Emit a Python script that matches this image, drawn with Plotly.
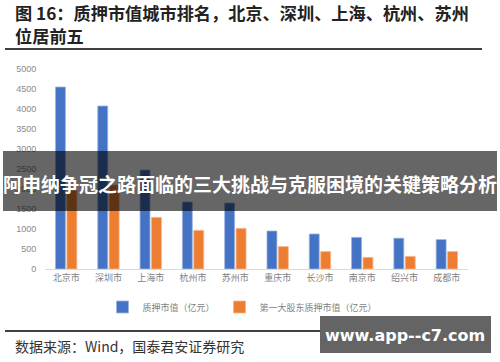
import plotly.graph_objects as go

cities = ["北京市", "深圳市", "上海市", "杭州市", "苏州市", "重庆市", "长沙市", "南京市", "绍兴市", "成都市"]
pledge_value = [4550, 4075, 2475, 1675, 1650, 950, 875, 790, 770, 735]
top_holder_pledge = [1960, 2100, 1290, 965, 1015, 560, 435, 290, 315, 435]
y_ticks = [0, 500, 1000, 1500, 2000, 2500, 3000, 3500, 4000, 4500, 5000]

series_names = ["质押市值（亿元）", "第一大股东质押市值（亿元）"]
title_line1 = "图 16：质押市值城市排名，北京、深圳、上海、杭州、苏州"
title_line2 = "位居前五"
source_text = "数据来源：Wind，国泰君安证券研究"
overlay_text = "阿申纳争冠之路面临的三大挑战与克服困境的关键策略分析"
watermark_text = "www.app--c7.com"

W, H = 500, 362
def py(v):
    return 1 - v / H

CJK = "Noto Sans CJK SC"

fig = go.Figure()
fig.add_trace(go.Bar(x=cities, y=pledge_value, name=series_names[0],
                     marker=dict(color="#4472C4", line=dict(color="#9db4e0", width=0.8))))
fig.add_trace(go.Bar(x=cities, y=top_holder_pledge, name=series_names[1],
                     marker=dict(color="#ED7D31", line=dict(color="#f6b58a", width=0.8))))

fig.update_layout(
    width=W, height=H,
    margin=dict(l=0, r=0, t=0, b=0, autoexpand=False),
    paper_bgcolor="white", plot_bgcolor="white",
    barmode="group", bargap=0.46, bargroupgap=0.13,
    font=dict(family=CJK, color="#7f7f7f", size=9),
    showlegend=True,
    legend=dict(orientation="h", x=0.485, xanchor="center", y=py(307), yanchor="middle",
                font=dict(size=9, color="#7f7f7f", family=CJK), itemwidth=30,
                bgcolor="rgba(0,0,0,0)"),
    xaxis=dict(domain=[45 / W, 468 / W], showline=True, linecolor="#d9d9d9", linewidth=1,
               showgrid=False, ticks="", tickfont=dict(size=9, color="#7f7f7f", family=CJK),
               automargin=False),
    yaxis=dict(domain=[py(269), py(69)], range=[0, 5000], tickvals=y_ticks,
               showgrid=False, zeroline=False, showline=False, automargin=False,
               tickfont=dict(size=9, color="#8a8a8a", family="Liberation Sans"),
               ticks="outside", ticklen=6, tickcolor="rgba(0,0,0,0)"),
)

shapes = []
shapes.append(dict(type="line", xref="paper", yref="paper", x0=5 / W, x1=482 / W,
                   y0=py(49), y1=py(49), line=dict(color="black", width=1.5), layer="above"))
shapes.append(dict(type="line", xref="paper", yref="paper", x0=5 / W, x1=482 / W,
                   y0=py(331), y1=py(331), line=dict(color="black", width=1.5), layer="above"))
shapes.append(dict(type="rect", xref="paper", yref="paper", x0=3 / W, x1=497 / W,
                   y0=py(211), y1=py(151), fillcolor="rgba(0,0,0,0.6)", line=dict(width=0),
                   layer="above"))
shapes.append(dict(type="rect", xref="paper", yref="paper", x0=320 / W, x1=491 / W,
                   y0=py(353), y1=py(316), fillcolor="rgb(100,100,100)", line=dict(width=0),
                   layer="above"))
fig.update_layout(shapes=shapes)

annotations = [
    dict(text="<b>" + title_line1 + "</b>", xref="paper", yref="paper", x=13 / W, y=py(13),
         xanchor="left", yanchor="middle", align="left", showarrow=False,
         font=dict(family=CJK, size=17.2, color="#222222")),
    dict(text="<b>" + title_line2 + "</b>", xref="paper", yref="paper", x=13 / W, y=py(36),
         xanchor="left", yanchor="middle", align="left", showarrow=False,
         font=dict(family=CJK, size=17.2, color="#222222")),
    dict(text=source_text, xref="paper", yref="paper", x=13 / W, y=py(346),
         xanchor="left", yanchor="middle", align="left", showarrow=False,
         font=dict(family=CJK, size=14, color="#333333")),
    dict(text="<b>" + overlay_text + "</b>", xref="paper", yref="paper", x=250 / W, y=py(183),
         xanchor="center", yanchor="middle", showarrow=False,
         font=dict(family=CJK, size=19, color="white")),
    dict(text="<b>" + watermark_text + "</b>", xref="paper", yref="paper", x=405 / W, y=py(335),
         xanchor="center", yanchor="middle", showarrow=False,
         font=dict(family="DejaVu Sans", size=16, color="white")),
]
fig.update_layout(annotations=annotations)

fig.write_html("out.html", config={"displayModeBar": False},
               post_script="document.body.style.margin='0';document.body.style.padding='0';")
